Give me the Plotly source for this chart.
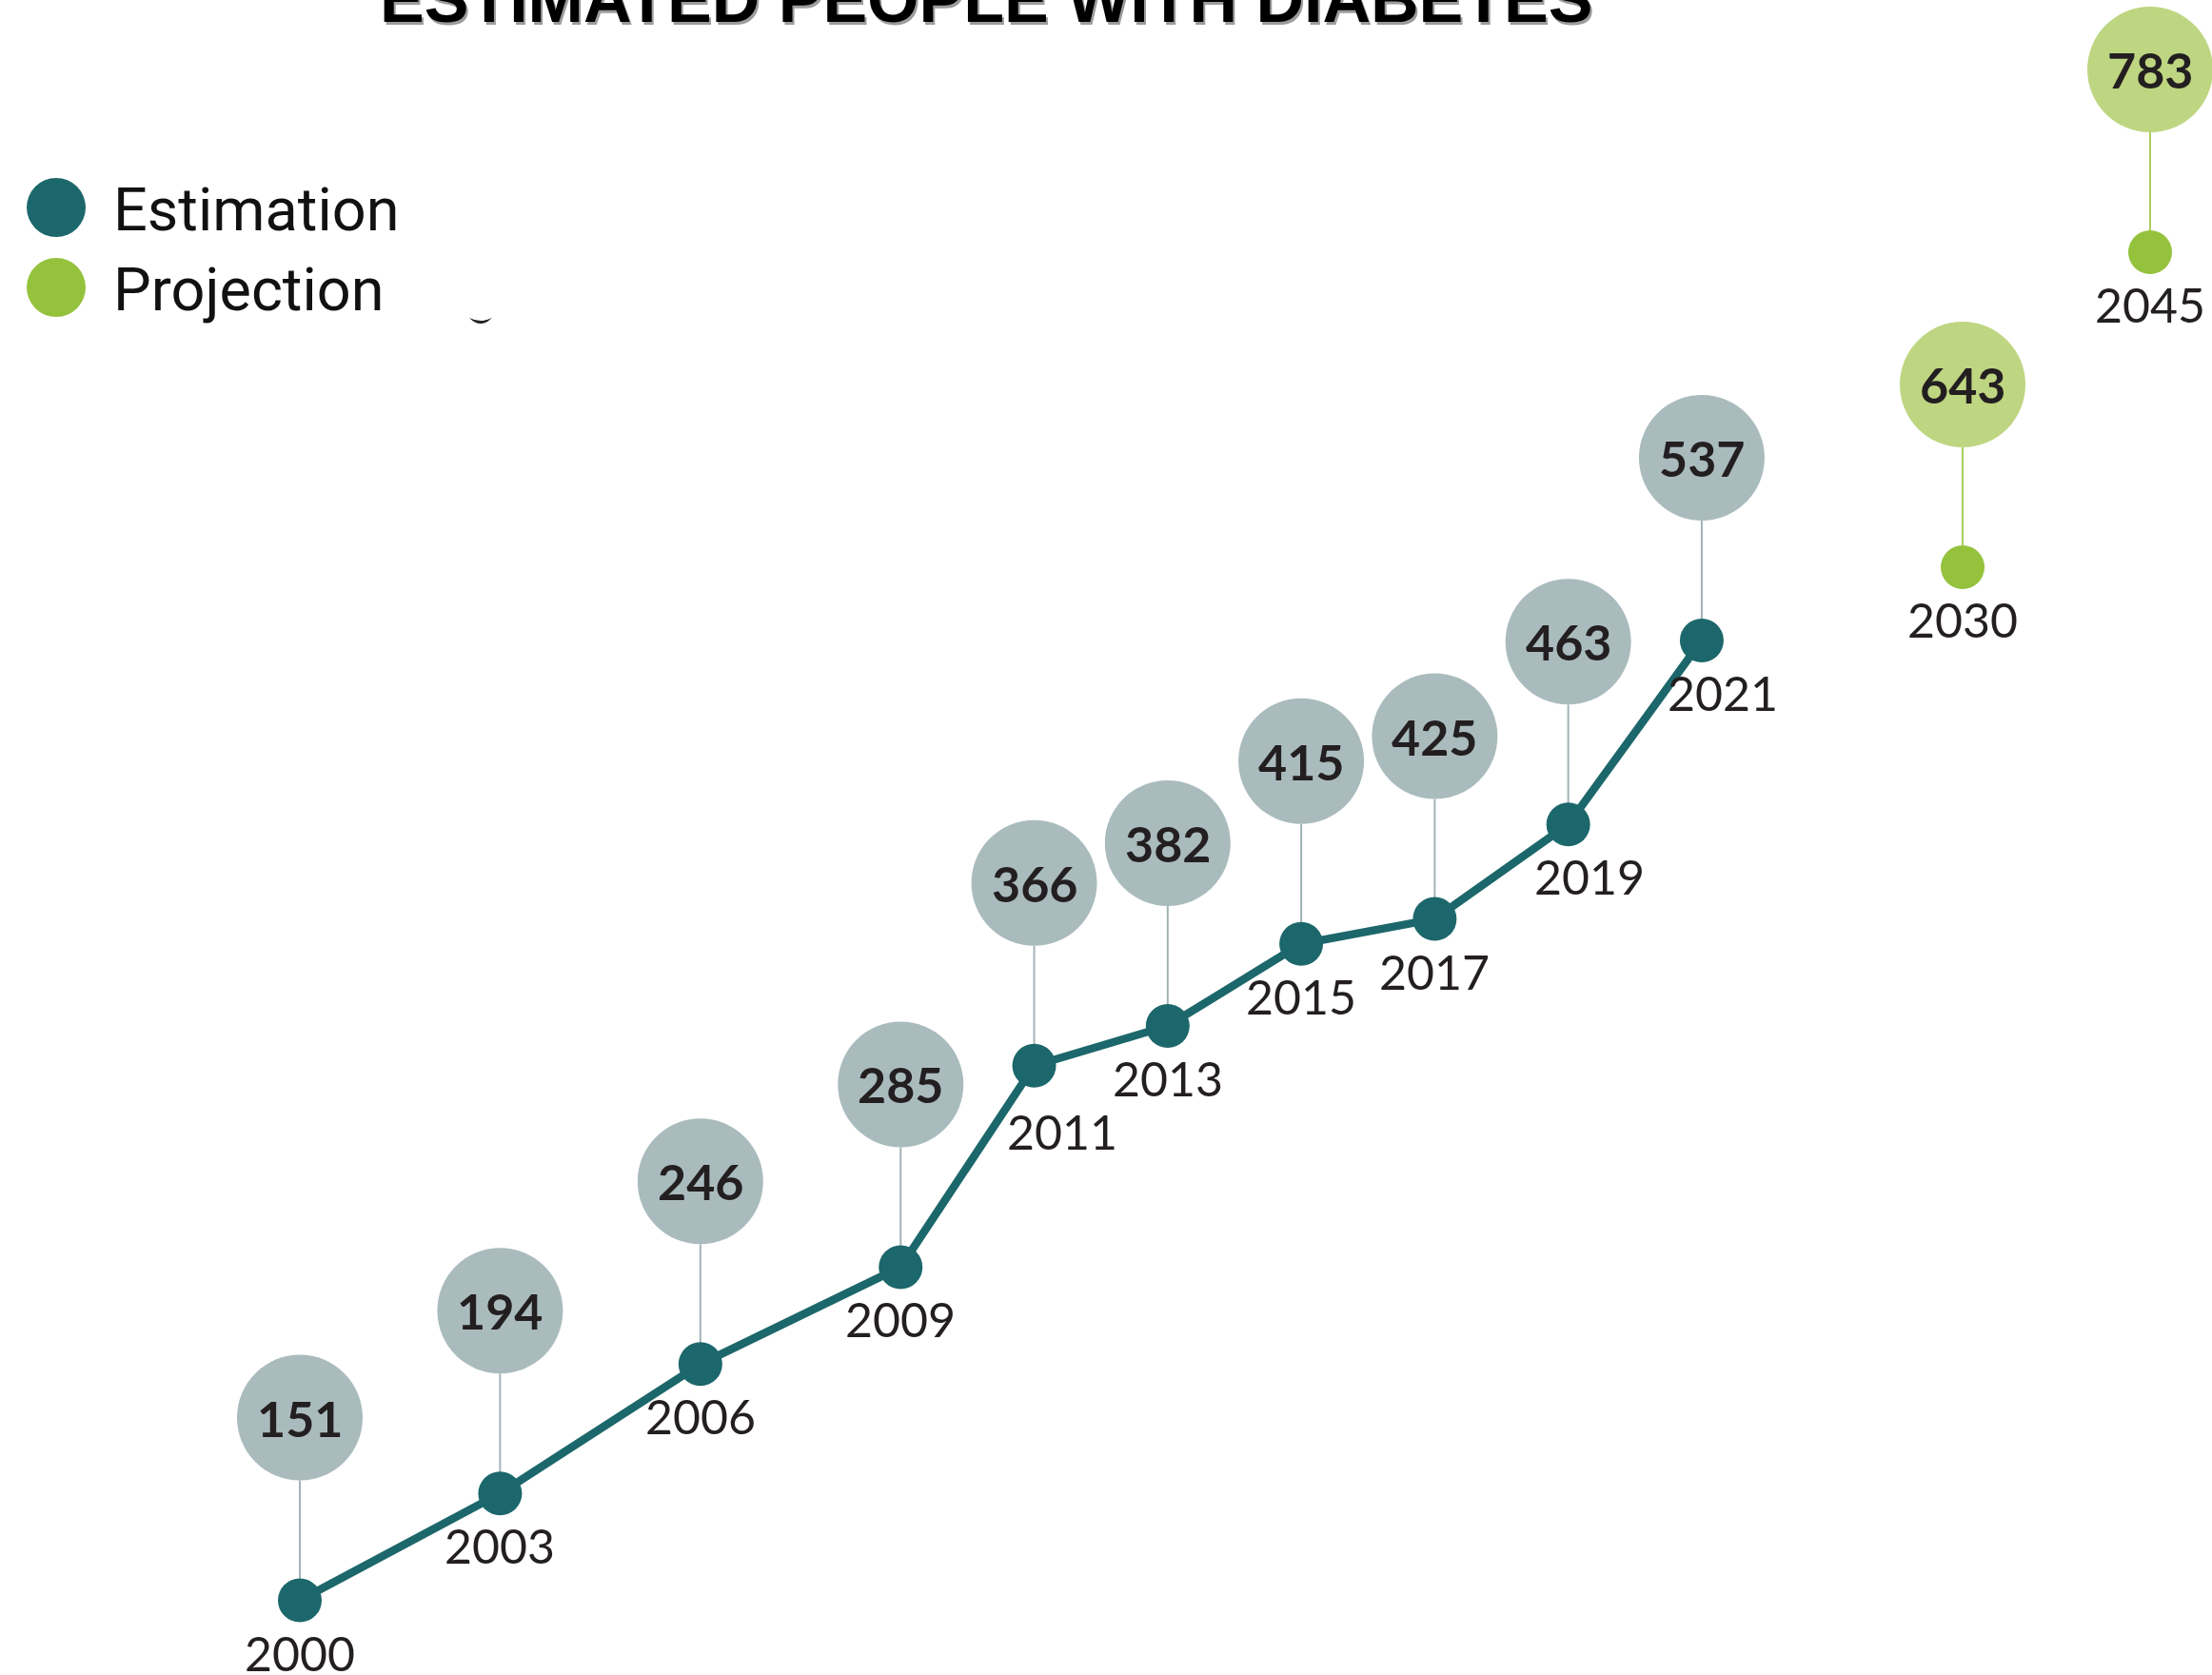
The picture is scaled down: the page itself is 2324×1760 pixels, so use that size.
import plotly.graph_objects as go

# People (20-79 years) living with diabetes worldwide, in millions
est_years = [2000, 2003, 2006, 2009, 2011, 2013, 2015, 2017, 2019, 2021]
est_values = [151, 194, 246, 285, 366, 382, 415, 425, 463, 537]
proj_years = [2030, 2045]
proj_values = [643, 783]

title_text = "ESTIMATED PEOPLE WITH DIABETES"
legend_names = ["Estimation", "Projection"]

# ---- styling -------------------------------------------------------------
W, H = 2324, 1760
TEAL = "#1c676b"
GREY_BUBBLE = "#aabbbd"
GREY_STEM = "#a2b3b6"
GREEN = "#95c23d"
GREEN_BUBBLE = "#bed681"
GREEN_STEM = "#a8cd5c"
INK = "#231f20"

MARKER_D = 46        # dot diameter, px
BUBBLE_R = 66        # value bubble radius, px
BUBBLE_LIFT = 192    # bubble centre above its dot, px
LABEL_DROP = 55      # year label centre below its dot, px
# extra (dx, dy) nudges for year labels that would sit on the line
label_nudge = {2011: (29, -14), 2019: (22, 0), 2021: (22, 0)}

VALUE_FONT = dict(family="Lato", size=52, color=INK, weight="bold")
YEAR_FONT = dict(family="Lato", size=50, color=INK)

fig = go.Figure()

# estimation line with dots
fig.add_trace(go.Scatter(
    x=est_years, y=est_values, mode="lines+markers",
    line=dict(color=TEAL, width=8.5),
    marker=dict(size=MARKER_D, color=TEAL, line=dict(width=0)),
    xaxis="x", yaxis="y", showlegend=False, hoverinfo="skip",
))
# projection dots (own compressed scale on the right)
fig.add_trace(go.Scatter(
    x=proj_years, y=proj_values, mode="markers",
    marker=dict(size=MARKER_D, color=GREEN, line=dict(width=0)),
    xaxis="x2", yaxis="y2", showlegend=False, hoverinfo="skip",
))

shapes = []
annotations = []

series = [
    (est_years, est_values, "x", "y", GREY_BUBBLE, GREY_STEM),
    (proj_years, proj_values, "x2", "y2", GREEN_BUBBLE, GREEN_STEM),
]
for years, values, xr, yr, bub_col, stem_col in series:
    for yv, v in zip(years, values):
        # stem from dot up to the bubble
        shapes.append(dict(
            type="line", xref=xr, yref=yr,
            xsizemode="pixel", ysizemode="pixel", xanchor=yv, yanchor=v,
            x0=0, x1=0, y0=0, y1=BUBBLE_LIFT - BUBBLE_R,
            line=dict(color=stem_col, width=2), layer="below",
        ))
        # value bubble
        shapes.append(dict(
            type="circle", xref=xr, yref=yr,
            xsizemode="pixel", ysizemode="pixel", xanchor=yv, yanchor=v,
            x0=-BUBBLE_R, x1=BUBBLE_R,
            y0=BUBBLE_LIFT - BUBBLE_R, y1=BUBBLE_LIFT + BUBBLE_R,
            fillcolor=bub_col, line=dict(width=0), layer="below",
        ))
        annotations.append(dict(
            x=yv, y=v, xref=xr, yref=yr, text=str(v), showarrow=False,
            yshift=BUBBLE_LIFT, font=VALUE_FONT,
            xanchor="center", yanchor="middle",
        ))
        dx, dy = label_nudge.get(yv, (0, 0))
        annotations.append(dict(
            x=yv, y=v, xref=xr, yref=yr, text=str(yv), showarrow=False,
            xshift=dx, yshift=-LABEL_DROP + dy, font=YEAR_FONT,
            xanchor="center", yanchor="middle",
        ))

# title, running off the top edge, with a faint grey drop shadow
title_x = 1036 / W
title_y = 1 - 40 / H
for col, sx, sy in [("#9c9c9c", 2, -3), ("#000000", 0, 0)]:
    annotations.append(dict(
        x=title_x, y=title_y, xref="paper", yref="paper", text=title_text,
        showarrow=False, xanchor="center", yanchor="bottom",
        xshift=sx, yshift=sy,
        font=dict(family="Liberation Sans", size=70, color=col, weight="bold"),
    ))

# hand-built legend
legend_rows = [(legend_names[0], TEAL, 218), (legend_names[1], GREEN, 302)]
for name, col, cy in legend_rows:
    shapes.append(dict(
        type="circle", xref="paper", yref="paper",
        xsizemode="pixel", ysizemode="pixel",
        xanchor=59 / W, yanchor=1 - cy / H,
        x0=-31, x1=31, y0=-31, y1=31,
        fillcolor=col, line=dict(width=0),
    ))
    annotations.append(dict(
        x=117 / W, y=1 - (cy + 2) / H, xref="paper", yref="paper", text=name,
        showarrow=False, xanchor="left", yanchor="middle",
        font=dict(family="Roboto", size=63, color="#111111"),
    ))

# descender of a lettering fragment peeking out beside the legend
shapes.append(dict(
    type="path", xref="paper", yref="paper",
    xsizemode="pixel", ysizemode="pixel", xanchor=0, yanchor=1,
    path="M 493,-334 Q 505,-346 517,-334 Q 505,-340 493,-334 Z",
    fillcolor="#231f20", line=dict(width=0),
))

axis_off = dict(visible=False, showgrid=False, zeroline=False, fixedrange=True)
fig.update_layout(
    width=W, height=H, autosize=False,
    margin=dict(l=0, r=0, t=0, b=0, pad=0),
    paper_bgcolor="white", plot_bgcolor="white",
    xaxis=dict(axis_off, range=[1995.509, 2028.643], domain=[0, 1]),
    yaxis=dict(axis_off, range=[121.0, 794.5], domain=[0, 1]),
    xaxis2=dict(axis_off, range=[1872.99, 2049.95], domain=[0, 1],
                overlaying="x", anchor="y2"),
    yaxis2=dict(axis_off, range=[150.7, 895.1], domain=[0, 1],
                overlaying="y", anchor="x2"),
    shapes=shapes,
    annotations=annotations,
    showlegend=False,
)

fig.write_html("out.html")
